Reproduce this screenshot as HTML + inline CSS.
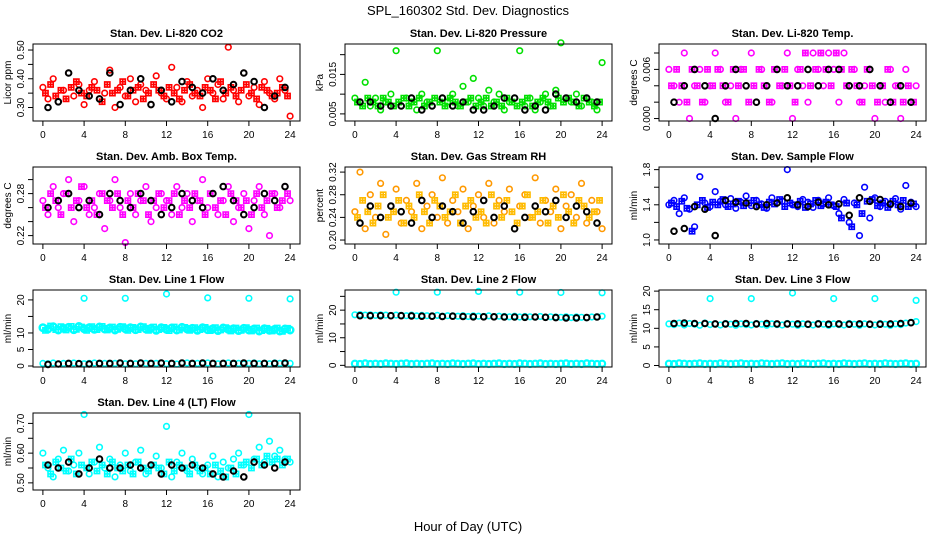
<!DOCTYPE html>
<html><head><meta charset="utf-8">
<style>
body{margin:0;background:#fff;}
svg{display:block;font-family:"Liberation Sans",Arial,sans-serif;}
.t{font-weight:bold;font-size:11px;}
.tk{font-size:10px;}
</style></head>
<body>
<svg id="chart" width="936" height="540" viewBox="0 0 936 540">
<text x="468" y="15" text-anchor="middle" font-size="13">SPL_160302  Std. Dev. Diagnostics</text>
<text x="468" y="531" text-anchor="middle" font-size="13">Hour of Day (UTC)</text>
</svg>
<script>
const co2Col = [0.37,0.33,0.40,0.32,0.36,0.42,0.34,0.38,0.31,0.36,0.39,0.33,0.35,0.43,0.30,0.37,0.34,0.40,0.32,0.38,0.36,0.31,0.41,0.35,0.33,0.44,0.37,0.32,0.39,0.34,0.36,0.30,0.40,0.35,0.38,0.33,0.51,0.36,0.32,0.42,0.34,0.37,0.31,0.39,0.35,0.33,0.40,0.36,0.27];
const co2Sq = [0.35,0.38,0.34,0.36,0.33,0.37,0.39,0.35,0.34,0.37,0.36,0.32,0.38,0.35,0.36,0.39,0.34,0.36,0.37,0.33,0.35,0.38,0.36,0.34,0.37,0.35,0.33,0.36,0.38,0.35,0.34,0.37,0.36,0.33,0.39,0.35,0.37,0.34,0.36,0.38,0.35,0.33,0.37,0.36,0.34,0.35,0.37,0.34];
const co2Blk = [0.30,0.32,0.42,0.36,0.34,0.33,0.42,0.31,0.36,0.40,0.31,0.36,0.32,0.39,0.37,0.35,0.40,0.36,0.38,0.42,0.39,0.30,0.34,0.37];
const presCol = [0.009,0.008,0.013,0.007,0.009,0.006,0.008,0.010,0.021,0.007,0.009,0.008,0.006,0.010,0.008,0.007,0.021,0.009,0.008,0.010,0.007,0.012,0.008,0.014,0.009,0.007,0.011,0.008,0.010,0.006,0.008,0.009,0.021,0.007,0.009,0.006,0.008,0.010,0.007,0.011,0.023,0.009,0.008,0.010,0.007,0.009,0.008,0.006,0.018];
const presSq = [0.008,0.007,0.009,0.008,0.007,0.009,0.008,0.007,0.008,0.009,0.007,0.008,0.009,0.007,0.008,0.009,0.008,0.007,0.009,0.008,0.007,0.008,0.009,0.007,0.008,0.009,0.007,0.008,0.007,0.009,0.008,0.007,0.008,0.009,0.007,0.008,0.009,0.008,0.007,0.009,0.008,0.009,0.008,0.007,0.009,0.008,0.007,0.008];
const presBlk = [0.008,0.008,0.007,0.007,0.007,0.009,0.006,0.007,0.009,0.007,0.008,0.006,0.006,0.007,0.009,0.009,0.006,0.007,0.006,0.010,0.009,0.008,0.009,0.008];
const tempCol = [0.006,0.004,0.002,0.008,0,0.004,0.006,0.002,0.004,0.008,0.006,0.002,0.004,0,0.006,0.004,0.008,0.002,0.006,0.004,0.002,0.006,0.004,0.008,0,0.006,0.004,0.002,0.008,0.006,0.004,0.008,0.006,0.002,0.008,0.004,0.006,0.002,0.004,0.006,0,0.004,0.002,0.006,0.004,0,0.006,0.002,0.004];
const tempSq = [0.004,0.006,0.004,0.002,0.006,0.004,0.002,0.006,0.004,0.006,0.004,0.002,0.006,0.004,0.006,0.002,0.004,0.006,0.004,0.002,0.006,0.004,0.006,0.004,0.002,0.006,0.008,0.004,0.006,0.008,0.006,0.004,0.008,0.006,0.004,0.006,0.004,0.002,0.006,0.004,0.002,0.004,0.006,0.002,0.004,0.002,0.004,0.002];
const tempBlk = [0.002,0.004,0.006,0.004,0,0.004,0.006,0.004,0.002,0.004,0.006,0.004,0.004,0.006,0.004,0.006,0.006,0.004,0.004,0.006,0.004,0.002,0.004,0.002];
const ambCol = [0.27,0.25,0.29,0.26,0.28,0.30,0.24,0.27,0.29,0.25,0.26,0.28,0.23,0.27,0.30,0.26,0.21,0.28,0.25,0.27,0.29,0.24,0.26,0.28,0.27,0.25,0.29,0.26,0.28,0.24,0.27,0.30,0.26,0.28,0.25,0.27,0.29,0.24,0.26,0.28,0.23,0.27,0.29,0.25,0.22,0.28,0.26,0.29,0.27];
const ambSq = [0.26,0.28,0.27,0.25,0.28,0.26,0.27,0.29,0.26,0.27,0.25,0.28,0.27,0.26,0.28,0.25,0.27,0.26,0.28,0.27,0.25,0.27,0.28,0.26,0.27,0.28,0.25,0.27,0.26,0.28,0.27,0.25,0.28,0.26,0.27,0.25,0.28,0.27,0.26,0.27,0.25,0.28,0.26,0.27,0.28,0.26,0.27,0.28];
const ambBlk = [0.26,0.27,0.28,0.26,0.27,0.25,0.28,0.27,0.26,0.28,0.27,0.25,0.26,0.28,0.27,0.26,0.28,0.29,0.27,0.25,0.26,0.28,0.27,0.29];
const rhCol = [0.25,0.32,0.22,0.28,0.24,0.30,0.21,0.26,0.29,0.23,0.27,0.25,0.30,0.22,0.26,0.28,0.24,0.31,0.23,0.27,0.25,0.29,0.22,0.26,0.28,0.24,0.30,0.23,0.27,0.25,0.29,0.22,0.26,0.28,0.24,0.31,0.23,0.27,0.25,0.29,0.22,0.26,0.28,0.24,0.30,0.23,0.27,0.25,0.22];
const rhSq = [0.24,0.27,0.25,0.23,0.26,0.28,0.24,0.25,0.27,0.23,0.26,0.24,0.28,0.25,0.23,0.27,0.26,0.24,0.25,0.28,0.23,0.26,0.27,0.24,0.25,0.23,0.28,0.26,0.24,0.27,0.25,0.23,0.26,0.28,0.24,0.25,0.27,0.23,0.26,0.24,0.28,0.25,0.23,0.27,0.26,0.24,0.25,0.27];
const rhBlk = [0.23,0.26,0.24,0.26,0.25,0.23,0.27,0.24,0.26,0.25,0.23,0.25,0.27,0.24,0.26,0.22,0.24,0.26,0.25,0.27,0.24,0.26,0.25,0.23];
const flowCol = [1.40,1.45,1.30,1.48,1.35,1.15,1.72,1.42,1.38,1.55,1.44,1.40,1.47,1.36,1.43,1.50,1.39,1.45,1.41,1.36,1.48,1.42,1.44,1.80,1.40,1.38,1.46,1.43,1.37,1.45,1.41,1.48,1.39,1.30,1.46,1.20,1.42,1.05,1.60,1.25,1.48,1.38,1.44,1.40,1.47,1.35,1.62,1.43,1.38];
const flowSq = [1.42,1.38,1.44,1.36,1.10,1.40,1.45,1.37,1.43,1.40,1.46,1.38,1.41,1.44,1.39,1.42,1.45,1.40,1.37,1.43,1.41,1.46,1.38,1.42,1.40,1.44,1.37,1.41,1.45,1.39,1.43,1.40,1.38,1.25,1.42,1.15,1.40,1.30,1.44,1.46,1.39,1.42,1.37,1.44,1.40,1.45,1.38,1.41];
const flowBlk = [1.10,1.13,1.38,1.35,1.05,1.45,1.43,1.42,1.38,1.40,1.42,1.48,1.40,1.38,1.43,1.40,1.41,1.28,1.48,1.44,1.46,1.41,1.38,1.42];
const l1Col = [11.6,11.2,11.9,10.9,11.4,11.7,11.0,12.0,11.3,11.6,11.1,11.8,11.2,11.5,10.9,11.7,11.3,11.6,11.0,11.8,11.2,11.4,10.8,11.6,11.1,11.5,10.9,11.7,11.2,11.4,10.8,11.6,11.0,11.3,10.7,11.5,11.1,11.3,10.7,11.4,10.9,11.2,10.6,11.3,10.8,11.1,10.6,11.2,10.9];
const l1Sq = [10.8,12.1,11.0,11.9,10.9,12.0,11.1,11.8,10.8,11.9,11.0,12.0,10.9,11.8,11.1,11.9,10.8,11.7,11.0,11.9,10.8,11.8,11.0,11.7,10.7,11.8,10.9,11.7,10.8,11.6,11.0,11.7,10.7,11.6,10.9,11.6,10.6,11.5,10.8,11.6,10.6,11.5,10.7,11.4,10.6,11.5,10.5,11.4];
const l1Low = [0.8,0.7,0.9,0.6,0.8,0.7,0.9,0.8,0.7,0.8,0.9,0.7,0.8,0.6,0.8,0.9,0.7,0.8,0.7,0.9,0.8,0.7,0.8,0.9,0.7,0.8,0.6,0.8,0.9,0.7,0.8,0.7,0.9,0.8,0.7,0.8,0.9,0.7,0.8,0.6,0.8,0.9,0.7,0.8,0.7,0.9,0.8,0.7,0.8];
const l1Blk = [0.5,0.6,0.8,0.7,0.6,0.8,0.8,0.9,0.8,0.9,0.8,0.9,0.8,0.9,0.8,0.9,0.8,0.8,0.8,0.9,0.8,0.8,0.8,0.9];
const l1OutX = [4,8,12,16,20,24];
const l1OutY = [20.5,20.5,21.8,20.6,20.5,20.3];
const l2Col = [18.3,18.4,18.2,18.3,18.1,18.3,18.2,18.0,18.2,18.1,18.0,18.2,17.9,18.1,18.0,17.9,18.1,17.8,18.0,17.9,17.8,18.0,17.7,17.9,17.8,17.7,17.9,17.6,17.8,17.7,17.6,17.8,17.5,17.7,17.6,17.5,17.7,17.4,17.6,17.5,17.4,17.6,17.3,17.5,17.4,17.3,17.5,17.6,17.8];
const l2Low = [0.6,0.5,0.7,0.5,0.6,0.5,0.7,0.6,0.5,0.6,0.7,0.5,0.6,0.5,0.6,0.7,0.5,0.6,0.5,0.7,0.6,0.5,0.6,0.7,0.5,0.6,0.5,0.6,0.7,0.5,0.6,0.5,0.7,0.6,0.5,0.6,0.7,0.5,0.6,0.5,0.6,0.7,0.5,0.6,0.5,0.7,0.6,0.5,0.6];
const l2Blk = [18.0,18.0,18.0,18.0,18.0,17.9,17.8,17.8,17.7,17.8,17.7,17.6,17.6,17.6,17.5,17.5,17.4,17.5,17.4,17.3,17.2,17.2,17.3,17.5];
const l2OutX = [4,8,12,16,20,24];
const l2OutY = [26.5,26.5,26.8,26.5,26.4,26.3];
const l3Col = [11.2,11.0,11.4,10.9,11.3,11.1,10.8,11.4,11.0,11.2,10.9,11.3,11.1,10.8,11.2,11.0,10.9,11.3,11.1,10.8,11.2,11.0,10.9,11.3,11.1,10.8,11.2,11.0,10.9,11.3,11.1,10.8,11.2,11.0,10.9,11.3,11.1,10.8,11.2,11.0,10.9,11.3,11.1,10.8,11.2,11.0,11.4,11.6,11.8];
const l3Low = [0.5,0.4,0.6,0.5,0.4,0.5,0.6,0.4,0.5,0.4,0.6,0.5,0.4,0.5,0.6,0.4,0.5,0.4,0.6,0.5,0.4,0.5,0.6,0.4,0.5,0.4,0.6,0.5,0.4,0.5,0.6,0.4,0.5,0.4,0.6,0.5,0.4,0.5,0.6,0.4,0.5,0.4,0.6,0.5,0.4,0.5,0.6,0.4,0.5];
const l3Blk = [11.3,11.4,11.3,11.3,11.2,11.2,11.3,11.3,11.2,11.3,11.2,11.2,11.2,11.1,11.2,11.1,11.2,11.1,11.2,11.1,11.1,11.2,11.3,11.5];
const l3OutX = [4,8,12,16,20,24];
const l3OutY = [18.0,18.0,19.5,18.0,18.0,17.5];
const l4Col = [0.60,0.55,0.52,0.58,0.61,0.54,0.56,0.60,0.73,0.53,0.57,0.62,0.55,0.58,0.52,0.56,0.60,0.54,0.57,0.61,0.53,0.56,0.59,0.55,0.69,0.52,0.57,0.60,0.54,0.58,0.55,0.53,0.56,0.59,0.52,0.57,0.55,0.58,0.60,0.56,0.73,0.58,0.62,0.57,0.64,0.59,0.61,0.58,0.57];
const l4Sq = [0.56,0.53,0.57,0.55,0.54,0.58,0.53,0.56,0.55,0.57,0.54,0.56,0.53,0.57,0.55,0.54,0.56,0.53,0.57,0.55,0.54,0.56,0.55,0.53,0.57,0.54,0.56,0.55,0.53,0.56,0.54,0.55,0.53,0.56,0.54,0.52,0.55,0.53,0.56,0.57,0.55,0.58,0.56,0.59,0.57,0.58,0.56,0.58];
const l4Blk = [0.56,0.55,0.57,0.53,0.55,0.58,0.55,0.55,0.56,0.55,0.56,0.53,0.56,0.55,0.56,0.55,0.53,0.52,0.54,0.52,0.57,0.56,0.55,0.57];
const hourTicks = [0,4,8,12,16,20,24];
const co2Ticks = [0.30,0.35,0.40,0.45,0.50];
const co2Labels = ["0.30","","0.40","","0.50"];
const presTicks = [0.005,0.010,0.015,0.020];
const presLabels = ["0.005","","0.015",""];
const tempTicks = [0,0.002,0.004,0.006,0.008];
const tempLabels = ["0.000","","","0.006",""];
const ambTicks = [0.22,0.24,0.26,0.28,0.30];
const ambLabels = ["0.22","","","0.28",""];
const rhTicks = [0.20,0.24,0.28,0.32];
const rhLabels = ["0.20","0.24","0.28","0.32"];
const flowTicks = [1.0,1.2,1.4,1.6,1.8];
const flowLabels = ["1.0","","1.4","","1.8"];
const l1Ticks = [0,5,10,15,20];
const l1Labels = ["0","5","10","","20"];
const l2Ticks = [0,5,10,15,20,25];
const l2Labels = ["0","","10","","20",""];
const l3Ticks = [0,5,10,15,20];
const l3Labels = ["0","5","10","15","20"];
const l4Ticks = [0.50,0.55,0.60,0.65,0.70];
const l4Labels = ["0.50","","0.60","","0.70"];

const NS = "http://www.w3.org/2000/svg";
const svg = document.getElementById("chart");
const colLeft = [33, 345, 659];
const rowTop = [44, 167, 290, 413];
const BW = 267, BH = 77;

function mk(tag, attrs, parent) {
  const e = document.createElementNS(NS, tag);
  for (const k in attrs) e.setAttribute(k, attrs[k]);
  parent.appendChild(e);
  return e;
}
const halfHours = co2Col.map((_, i) => i * 0.5);
const qHours = co2Sq.map((_, i) => i * 0.5 + 0.25);
const blkHours = co2Blk.map((_, i) => i + 0.5);

function panel(name, title, ytitle, col, row, ymin, ymax, yTicks, yLabels, series) {
  const L = colLeft[col], T = rowTop[row];
  const g = mk("g", {}, svg);
  
  
  const sx = h => L + (h + 0.96) / 25.92 * BW;
  const sy = v => T + BH - (v - ymin) / (ymax - ymin) * BH;
  const tt = mk("text", {x: L + BW / 2, y: T - 7, "text-anchor": "middle", class: "t"}, g);
  tt.textContent = title;
  
  
  const sg = mk("g", {fill: "none"}, g);
  series.forEach(s => {
    s.ys.forEach((v, i) => {
      const cx = sx(s.xs[i]), cy = sy(v);
      let c;
      if (s.sq) {
        c = mk("path", {d: `M${cx-2.6},${cy-2.6}h5.2v5.2h-5.2zM${cx},${cy-2.6}v5.2M${cx-2.6},${cy}h5.2`, stroke: s.color, "stroke-width": 1.6}, sg);
      } else {
        c = mk("circle", {cx: cx.toFixed(1), cy: cy.toFixed(1), r: s.r || 2.8, stroke: s.color, "stroke-width": s.w || 1.6}, sg);
      }
      
      
    });
  });
  const box = mk("rect", {x: L, y: T, width: BW, height: BH, fill: "none", stroke: "#000", "stroke-width": 1}, g);
  
  
  const xa = mk("g", {stroke: "#000", "stroke-width": 1}, g);
  
  
  hourTicks.forEach(h => {
    mk("line", {x1: sx(h), x2: sx(h), y1: T + BH, y2: T + BH + 5}, xa);
    const tx = mk("text", {x: sx(h), y: T + BH + 17, "text-anchor": "middle", class: "tk", stroke: "none"}, xa);
    tx.textContent = h;
  });
  const ya = mk("g", {stroke: "#000", "stroke-width": 1}, g);
  
  
  yTicks.forEach((v, i) => {
    mk("line", {x1: L - 5, x2: L, y1: sy(v), y2: sy(v)}, ya);
    if (yLabels[i]) {
      const tx = mk("text", {x: L - 9, y: sy(v), "text-anchor": "middle", class: "tk", stroke: "none", transform: `rotate(-90 ${L - 9} ${sy(v)})`}, ya);
      tx.textContent = yLabels[i];
    }
  });
  const yt = mk("text", {x: L - 22, y: T + BH / 2, "text-anchor": "middle", class: "tk", transform: `rotate(-90 ${L - 22} ${T + BH / 2})`}, g);
  yt.textContent = ytitle;
  
  
}

const BLK = "#000";
panel("co2", "Stan. Dev. Li-820 CO2", "Licor ppm", 0, 0, 0.253, 0.521, co2Ticks, co2Labels,
  [{name: "co2", xs: halfHours, ys: co2Col, color: "#ff0000"}, {name: "co2-square", xs: qHours, ys: co2Sq, color: "#ff0000", sq: 1}, {name: "co2-black", xs: blkHours, ys: co2Blk, color: BLK, w: 2}]);
panel("pressure", "Stan. Dev. Li-820 Pressure", "kPa", 1, 0, 0.0032, 0.0227, presTicks, presLabels,
  [{name: "pressure", xs: halfHours, ys: presCol, color: "#00e000"}, {name: "pressure-square", xs: qHours, ys: presSq, color: "#00e000", sq: 1}, {name: "pressure-black", xs: blkHours, ys: presBlk, color: BLK, w: 2}]);
panel("temp", "Stan. Dev. Li-820 Temp.", "degrees C", 2, 0, -0.0003, 0.0091, tempTicks, tempLabels,
  [{name: "temp", xs: halfHours, ys: tempCol, color: "#ff00ff"}, {name: "temp-square", xs: qHours, ys: tempSq, color: "#ff00ff", sq: 1}, {name: "temp-black", xs: blkHours, ys: tempBlk, color: BLK, w: 2}]);
panel("amb-temp", "Stan. Dev. Amb. Box Temp.", "degrees C", 0, 1, 0.208, 0.318, ambTicks, ambLabels,
  [{name: "amb-temp", xs: halfHours, ys: ambCol, color: "#ff00ff"}, {name: "amb-temp-square", xs: qHours, ys: ambSq, color: "#ff00ff", sq: 1}, {name: "amb-temp-black", xs: blkHours, ys: ambBlk, color: BLK, w: 2}]);
panel("rh", "Stan. Dev. Gas Stream RH", "percent", 1, 1, 0.193, 0.329, rhTicks, rhLabels,
  [{name: "rh", xs: halfHours, ys: rhCol, color: "#ff9900"}, {name: "rh-square", xs: qHours, ys: rhSq, color: "#ffbb00", sq: 1}, {name: "rh-black", xs: blkHours, ys: rhBlk, color: BLK, w: 2}]);
panel("sample-flow", "Stan. Dev. Sample Flow", "ml/min", 2, 1, 0.954, 1.83, flowTicks, flowLabels,
  [{name: "sample-flow", xs: halfHours, ys: flowCol, color: "#0000ff"}, {name: "sample-flow-square", xs: qHours, ys: flowSq, color: "#0000ff", sq: 1}, {name: "sample-flow-black", xs: blkHours, ys: flowBlk, color: BLK, w: 2}]);
panel("line1", "Stan. Dev. Line 1 Flow", "ml/min", 0, 2, -0.3, 23, l1Ticks, l1Labels,
  [{name: "line1", xs: halfHours, ys: l1Col, color: "#00ffff", r: 3.2, w: 2.5}, {name: "line1-square", xs: qHours, ys: l1Sq, color: "#00ffff", sq: 1}, {name: "line1-low", xs: halfHours, ys: l1Low, color: "#00ffff"},
   {name: "line1-outlier", xs: l1OutX, ys: l1OutY, color: "#00ffff"}, {name: "line1-black", xs: blkHours, ys: l1Blk, color: BLK, w: 2}]);
panel("line2", "Stan. Dev. Line 2 Flow", "ml/min", 1, 2, -0.6, 27.3, l2Ticks, l2Labels,
  [{name: "line2", xs: halfHours, ys: l2Col, color: "#00ffff"}, {name: "line2-low", xs: halfHours, ys: l2Low, color: "#00ffff", r: 3, w: 2.2},
   {name: "line2-outlier", xs: l2OutX, ys: l2OutY, color: "#00ffff"}, {name: "line2-black", xs: blkHours, ys: l2Blk, color: BLK, w: 2}]);
panel("line3", "Stan. Dev. Line 3 Flow", "ml/min", 2, 2, -0.4, 20.3, l3Ticks, l3Labels,
  [{name: "line3", xs: halfHours, ys: l3Col, color: "#00ffff"}, {name: "line3-low", xs: halfHours, ys: l3Low, color: "#00ffff", r: 3, w: 2.2},
   {name: "line3-outlier", xs: l3OutX, ys: l3OutY, color: "#00ffff"}, {name: "line3-black", xs: blkHours, ys: l3Blk, color: BLK, w: 2}]);
panel("line4", "Stan. Dev. Line 4 (LT) Flow", "ml/min", 0, 3, 0.476, 0.735, l4Ticks, l4Labels,
  [{name: "line4", xs: halfHours, ys: l4Col, color: "#00ffff"}, {name: "line4-square", xs: qHours, ys: l4Sq, color: "#00ffff", sq: 1}, {name: "line4-black", xs: blkHours, ys: l4Blk, color: BLK, w: 2}]);
</script>
</body></html>
